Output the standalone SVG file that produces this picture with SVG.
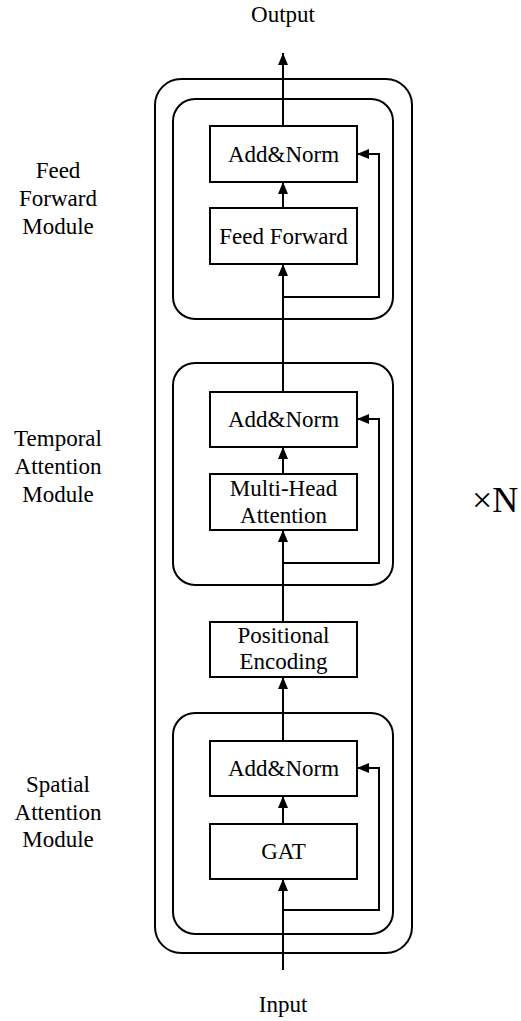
<svg xmlns="http://www.w3.org/2000/svg" width="521" height="1021" viewBox="0 0 521 1021">
<style>
  .t{font-family:"Liberation Serif","Times New Roman","DejaVu Serif",serif;font-size:23px;fill:#000;text-anchor:middle}
  .box{fill:#fff;stroke:#000;stroke-width:2}
  .mod{fill:none;stroke:#000;stroke-width:2}
  .ln{fill:none;stroke:#000;stroke-width:2}
</style>
<defs>
  <marker id="ah" viewBox="0 0 12 10" refX="12" refY="5" markerWidth="12" markerHeight="10" markerUnits="userSpaceOnUse" orient="auto">
    <path d="M0,0 L12,5 L0,10 Z" fill="#000"/>
  </marker>
</defs>
<rect fill="#fff" x="0" y="0" width="521" height="1021"/>
<g id="outer"><rect class="mod" x="155" y="79" width="257" height="874" rx="26"/></g>
<g id="ffmodule"><rect class="mod" x="173" y="99" width="220" height="220" rx="22"/></g>
<g id="tmodule"><rect class="mod" x="173" y="363" width="220" height="222" rx="22"/></g>
<g id="smodule"><rect class="mod" x="173" y="713" width="220" height="221" rx="22"/></g>
<g id="connectors">
  <line class="ln" x1="283" y1="126" x2="283" y2="53" marker-end="url(#ah)"/>
  <line class="ln" x1="283" y1="208" x2="283" y2="182" marker-end="url(#ah)"/>
  <line class="ln" x1="283" y1="392" x2="283" y2="264" marker-end="url(#ah)"/>
  <polyline class="ln" points="283,297 379,297 379,154 357,154" marker-end="url(#ah)"/>
  <line class="ln" x1="283" y1="474" x2="283" y2="447" marker-end="url(#ah)"/>
  <line class="ln" x1="283" y1="622" x2="283" y2="530" marker-end="url(#ah)"/>
  <polyline class="ln" points="283,563 379,563 379,419 357,419" marker-end="url(#ah)"/>
  <line class="ln" x1="283" y1="741" x2="283" y2="677" marker-end="url(#ah)"/>
  <line class="ln" x1="283" y1="824" x2="283" y2="796" marker-end="url(#ah)"/>
  <line class="ln" x1="283" y1="970" x2="283" y2="879" marker-end="url(#ah)"/>
  <polyline class="ln" points="283,910 379,910 379,768 357,768" marker-end="url(#ah)"/>
</g>
<g id="ff_addnorm"><rect class="box" x="210" y="126" width="147" height="56"/><text class="t" x="283.5" y="162">Add&amp;Norm</text></g>
<g id="feedforward"><rect class="box" x="210" y="208" width="147" height="56"/><text class="t" x="283.5" y="244">Feed Forward</text></g>
<g id="t_addnorm"><rect class="box" x="210" y="392" width="147" height="55"/><text class="t" x="283.5" y="427">Add&amp;Norm</text></g>
<g id="mha"><rect class="box" x="210" y="474" width="147" height="56"/><text class="t" x="283.5" y="496">Multi-Head</text><text class="t" x="283.5" y="523">Attention</text></g>
<g id="posenc"><rect class="box" x="210" y="622" width="147" height="55"/><text class="t" x="283.5" y="643">Positional</text><text class="t" x="283.5" y="669">Encoding</text></g>
<g id="s_addnorm"><rect class="box" x="210" y="741" width="147" height="55"/><text class="t" x="283.5" y="776">Add&amp;Norm</text></g>
<g id="gat"><rect class="box" x="210" y="824" width="147" height="55"/><text class="t" x="283.5" y="859">GAT</text></g>
<g id="labels">
  <text class="t" x="283" y="22">Output</text>
  <text class="t" x="283" y="1012">Input</text>
  <text class="t" x="58" y="178">Feed</text>
  <text class="t" x="58" y="206">Forward</text>
  <text class="t" x="58" y="234">Module</text>
  <text class="t" x="58" y="446">Temporal</text>
  <text class="t" x="58" y="474">Attention</text>
  <text class="t" x="58" y="502">Module</text>
  <text class="t" x="58" y="792">Spatial</text>
  <text class="t" x="58" y="820">Attention</text>
  <text class="t" x="58" y="847">Module</text>
  <text class="t" x="472" y="512" style="font-size:36px;text-anchor:start">×N</text>
</g>
</svg>
